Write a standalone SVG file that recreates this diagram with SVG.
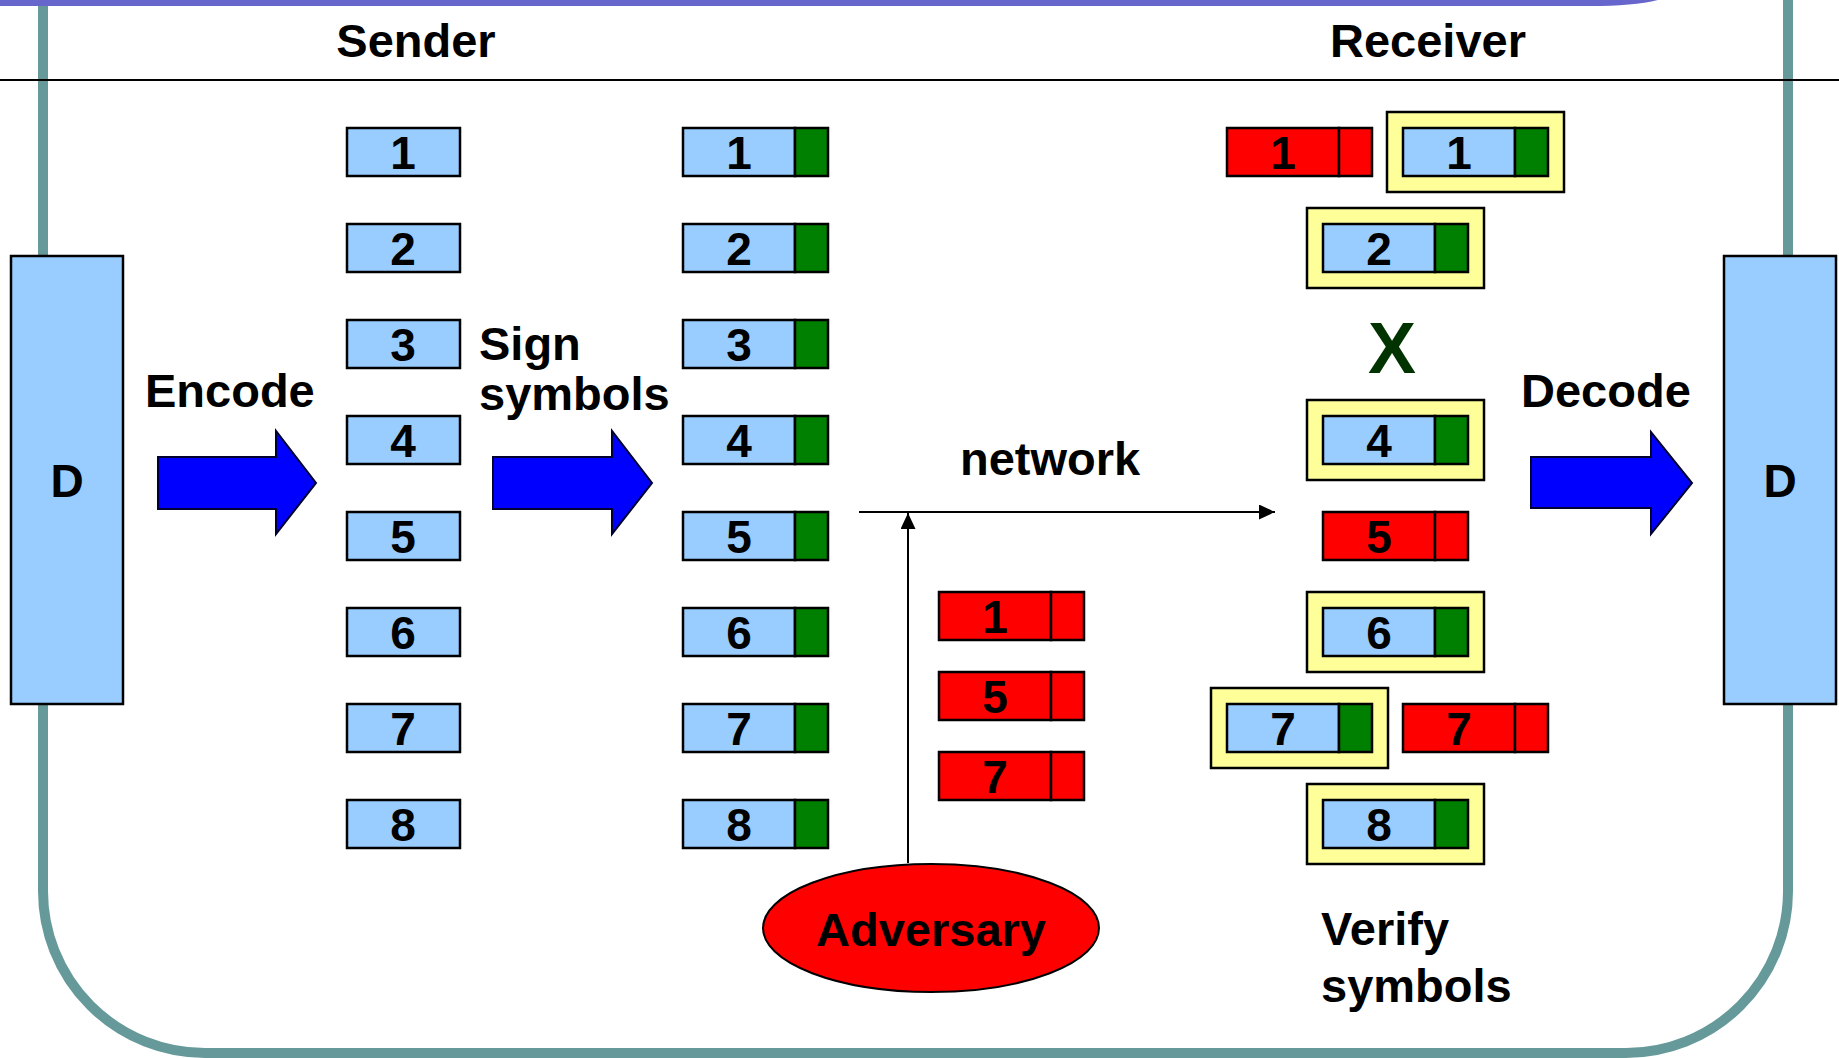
<svg xmlns="http://www.w3.org/2000/svg" width="1839" height="1058" viewBox="0 0 1839 1058">
  <style>
    .lbl { font-family: "Liberation Sans", Arial, sans-serif; font-weight: bold; fill: #000; }
    .big { font-size: 47px; }
    .num { font-size: 46px; text-anchor: middle; }
    .box { stroke: #000; stroke-width: 2.5; }
    .data { fill: #99CCFF; }
    .sig { fill: #008000; }
    .fake { fill: #FF0000; }
    .ok { fill: #FFFF99; stroke: #000; stroke-width: 2.5; }
    .fat { fill: #0000FF; stroke: #000033; stroke-width: 2; stroke-linejoin: miter; }
    .wire { stroke: #000; stroke-width: 2; fill: none; }
  </style>
  <defs>
    <marker id="tip" markerUnits="userSpaceOnUse" markerWidth="17" markerHeight="16" refX="16" refY="7.5" orient="auto">
      <path d="M0,0 L16,7.5 L0,15 Z" fill="#000"/>
    </marker>
    <!-- plain symbol -->
    <g id="sym">
      <rect class="box data" x="0" y="0" width="113" height="48"/>
    </g>
    <!-- symbol with valid signature -->
    <g id="signed">
      <rect class="box data" x="0" y="0" width="112" height="48"/>
      <rect class="box sig" x="112" y="0" width="33" height="48"/>
    </g>
    <!-- forged symbol -->
    <g id="forged">
      <rect class="box fake" x="0" y="0" width="112" height="48"/>
      <rect class="box fake" x="112" y="0" width="33" height="48"/>
    </g>
    <!-- verified symbol, framed -->
    <g id="verified">
      <rect class="ok" x="-16" y="-16" width="177" height="80"/>
      <rect class="box data" x="0" y="0" width="112" height="48"/>
      <rect class="box sig" x="112" y="0" width="33" height="48"/>
    </g>
  </defs>

  <rect width="1839" height="1058" fill="#fff"/>

  <!-- frame -->
  <g id="frame">
    <path d="M43,-10 V891 A162,162 0 0 0 205,1053 H1626 A162,162 0 0 0 1788,891 V-10" fill="none" stroke="#669999" stroke-width="10"/>
    <path d="M0,-2 H1665 Q1640,6 1590,6 H0 Z" fill="#6666CC"/>
    <line x1="0" y1="80" x2="1839" y2="80" stroke="#000" stroke-width="2"/>
  </g>

  <!-- headings -->
  <g id="headings">
    <text class="lbl big" x="416" y="57" text-anchor="middle">Sender</text>
    <text class="lbl big" x="1428" y="57" text-anchor="middle">Receiver</text>
  </g>

  <!-- data blocks -->
  <g id="source">
    <rect class="box data" x="11" y="256" width="112" height="448"/>
    <text class="lbl num" x="67" y="497">D</text>
  </g>
  <g id="sink">
    <rect class="box data" x="1724" y="256" width="112" height="448"/>
    <text class="lbl num" x="1780" y="497">D</text>
  </g>

  <!-- processing steps -->
  <g id="encode">
    <polygon class="fat" points="158,457 276,457 276,431 316,483 276,534 276,509 158,509"/>
    <text class="lbl big" x="145" y="407">Encode</text>
  </g>
  <g id="sign">
    <polygon class="fat" points="493,457 612,457 612,431 652,483 612,534 612,509 493,509"/>
    <text class="lbl big" x="479" y="360">Sign</text>
    <text class="lbl big" x="479" y="410">symbols</text>
  </g>
  <g id="decode">
    <polygon class="fat" points="1531,457 1651,457 1651,432 1692,483 1651,534 1651,508 1531,508"/>
    <text class="lbl big" x="1521" y="407">Decode</text>
  </g>

  <!-- encoded symbols -->
  <g id="encoded">
    <use href="#sym" x="347" y="128"/><text class="lbl num" x="403" y="169">1</text>
    <use href="#sym" x="347" y="224"/><text class="lbl num" x="403" y="265">2</text>
    <use href="#sym" x="347" y="320"/><text class="lbl num" x="403" y="361">3</text>
    <use href="#sym" x="347" y="416"/><text class="lbl num" x="403" y="457">4</text>
    <use href="#sym" x="347" y="512"/><text class="lbl num" x="403" y="553">5</text>
    <use href="#sym" x="347" y="608"/><text class="lbl num" x="403" y="649">6</text>
    <use href="#sym" x="347" y="704"/><text class="lbl num" x="403" y="745">7</text>
    <use href="#sym" x="347" y="800"/><text class="lbl num" x="403" y="841">8</text>
  </g>

  <!-- signed symbols -->
  <g id="signed-symbols">
    <use href="#signed" x="683" y="128"/><text class="lbl num" x="739" y="169">1</text>
    <use href="#signed" x="683" y="224"/><text class="lbl num" x="739" y="265">2</text>
    <use href="#signed" x="683" y="320"/><text class="lbl num" x="739" y="361">3</text>
    <use href="#signed" x="683" y="416"/><text class="lbl num" x="739" y="457">4</text>
    <use href="#signed" x="683" y="512"/><text class="lbl num" x="739" y="553">5</text>
    <use href="#signed" x="683" y="608"/><text class="lbl num" x="739" y="649">6</text>
    <use href="#signed" x="683" y="704"/><text class="lbl num" x="739" y="745">7</text>
    <use href="#signed" x="683" y="800"/><text class="lbl num" x="739" y="841">8</text>
  </g>

  <!-- injected symbols -->
  <g id="injected">
    <use href="#forged" x="939" y="592"/><text class="lbl num" x="995" y="633">1</text>
    <use href="#forged" x="939" y="672"/><text class="lbl num" x="995" y="713">5</text>
    <use href="#forged" x="939" y="752"/><text class="lbl num" x="995" y="793">7</text>
  </g>

  <!-- adversary -->
  <g id="adversary">
    <ellipse cx="931" cy="928" rx="168" ry="64" fill="#FF0000" stroke="#000" stroke-width="2"/>
    <text class="lbl big" x="931" y="946" text-anchor="middle">Adversary</text>
  </g>

  <!-- connectors -->
  <g id="connectors">
    <line class="wire" x1="859" y1="512" x2="1275" y2="512" marker-end="url(#tip)"/>
    <line class="wire" x1="908" y1="863" x2="908" y2="513" marker-end="url(#tip)"/>
    <text class="lbl big" x="960" y="475">network</text>
  </g>

  <!-- received symbols -->
  <g id="received">
    <use href="#forged" x="1227" y="128"/><text class="lbl num" x="1283" y="169">1</text>
    <use href="#verified" x="1403" y="128"/><text class="lbl num" x="1459" y="169">1</text>
    <use href="#verified" x="1323" y="224"/><text class="lbl num" x="1379" y="265">2</text>
    <text x="1392" y="373" text-anchor="middle" style="font-family:'Liberation Sans',Arial,sans-serif;font-weight:bold;font-size:72px;fill:#003300">X</text>
    <use href="#verified" x="1323" y="416"/><text class="lbl num" x="1379" y="457">4</text>
    <use href="#forged" x="1323" y="512"/><text class="lbl num" x="1379" y="553">5</text>
    <use href="#verified" x="1323" y="608"/><text class="lbl num" x="1379" y="649">6</text>
    <use href="#verified" x="1227" y="704"/><text class="lbl num" x="1283" y="745">7</text>
    <use href="#forged" x="1403" y="704"/><text class="lbl num" x="1459" y="745">7</text>
    <use href="#verified" x="1323" y="800"/><text class="lbl num" x="1379" y="841">8</text>
  </g>

  <g id="verify">
    <text class="lbl big" x="1321" y="945">Verify</text>
    <text class="lbl big" x="1321" y="1002">symbols</text>
  </g>
</svg>
